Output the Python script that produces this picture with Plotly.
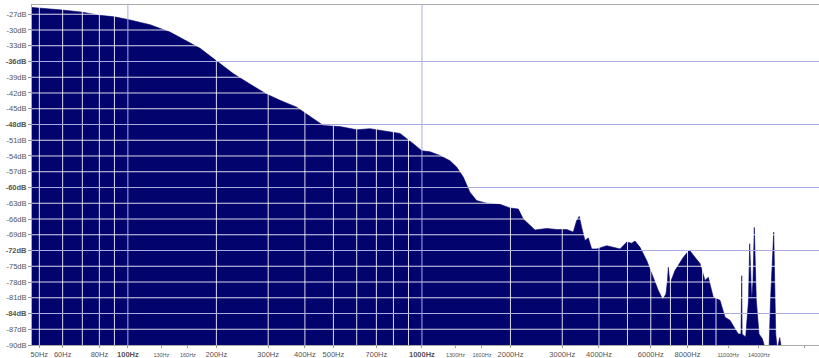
import math
import plotly.graph_objects as go

# Spectrum read-out: frequency (Hz) and level (dB)
freq_hz = [
    47, 50, 60, 70, 80, 90, 100, 119, 139, 176,
    200, 228, 260, 296, 329, 375, 405, 462, 526, 600,
    666, 759, 842, 932, 998, 1065, 1151, 1245, 1312, 1382,
    1456, 1535, 1660, 1842, 1992, 2126, 2211, 2330, 2423, 2656,
    2872, 3106, 3270, 3359, 3428, 3493, 3584, 3679, 3778, 3929,
    4249, 4475, 4716, 4970, 5168, 5303, 5515, 5812, 6118, 6363,
    6587, 6759, 6839, 6883, 6975, 7254, 7743, 8115, 8484, 8823,
    9175, 9415, 9790, 10318, 10730, 11158, 11604, 11910, 12163, 12230,
    12272, 12618, 12896, 13018, 13224, 13362, 13498, 13711, 14005, 14370,
    14759, 15145, 15324, 15469, 15714, 15962, 16163, 16470, 16730, 16800,
    22400,
]
level_db = [
    -25.7, -25.8, -26.2, -26.6, -27.2, -27.5, -28.0, -29.0, -30.4, -33.5,
    -35.8, -38.3, -40.3, -42.2, -43.4, -44.7, -46.0, -48.2, -48.4, -49.0,
    -48.8, -49.3, -49.7, -51.6, -53.0, -53.2, -53.9, -54.9, -56.1, -58.0,
    -60.9, -62.5, -63.0, -63.2, -63.9, -64.1, -66.0, -67.2, -68.1, -67.8,
    -68.0, -68.0, -68.5, -66.3, -65.5, -67.6, -70.1, -69.6, -71.7, -71.7,
    -71.1, -71.4, -71.7, -70.4, -70.6, -70.2, -71.4, -73.9, -77.1, -79.6,
    -81.3, -80.3, -77.7, -75.2, -78.3, -75.8, -73.3, -71.9, -73.3, -74.5,
    -77.7, -77.1, -80.9, -81.5, -84.7, -85.3, -86.9, -87.9, -87.9, -76.8,
    -87.9, -88.5, -81.5, -70.7, -81.5, -77.7, -67.6, -81.5, -87.9, -88.8,
    -91.0, -91.0, -81.5, -75.2, -68.5, -87.9, -91.0, -88.6, -91.0, -100.0,
    -100.0,
]

# Axis labelling
x_tick_hz = [50, 60, 80, 100, 130, 160, 200, 300, 400, 500, 700, 1000,
             1300, 1600, 2000, 3000, 4000, 6000, 8000, 11000, 14000, 20000]
x_small_hz = [130, 160, 1300, 1600, 11000, 14000]
x_bold_hz = [100, 1000]
y_tick_db = list(range(-90, -26, 3))
y_major_db = [-36, -48, -60, -72, -84]

# Grid positions
x_grid_minor = [50, 60, 70, 80, 90, 200, 300, 400, 500, 600, 700, 800, 900,
                2000, 3000, 4000, 5000, 6000, 7000, 8000, 9000, 10000, 20000]
x_grid_major = [100, 1000]

NAVY = "rgb(3,3,110)"
MAJOR = "rgb(172,172,228)"
FONT = "Liberation Sans, Arial, sans-serif"

X_MIN, X_MAX = 47.2, 22400
Y_MIN, Y_MAX = -90, -25.24


def x_label(f):
    text = f"{f}Hz"
    if f in x_bold_hz:
        return f"<b>{text}</b>"
    if f in x_small_hz:
        return f'<span style="font-size:5.5px">{text}</span>'
    return text


def y_label(v):
    text = f"{v}dB"
    if v in y_major_db:
        return f"<b>{text}</b>"
    return text


def vlines(xs):
    px, py = [], []
    for f in xs:
        px += [f, f, None]
        py += [Y_MIN, Y_MAX, None]
    return px, py


def hlines(ys):
    px, py = [], []
    for v in ys:
        px += [X_MIN, X_MAX, None]
        py += [v, v, None]
    return px, py


fig = go.Figure()

# floor for the filled area
fig.add_trace(go.Scatter(x=[freq_hz[0], freq_hz[-1]], y=[-100, -100], mode="lines",
                         line=dict(width=0), hoverinfo="skip", showlegend=False))
# spectrum
fig.add_trace(go.Scatter(x=freq_hz, y=level_db, mode="lines", fill="tonexty",
                         fillcolor=NAVY, line=dict(color=NAVY, width=0.6),
                         hoverinfo="skip", showlegend=False))

# white minor grid drawn over the spectrum
y_grid_minor = [v for v in y_tick_db if v not in y_major_db and v != -90]
vx, vy = vlines(x_grid_minor)
hx, hy = hlines(y_grid_minor)
fig.add_trace(go.Scatter(x=vx + hx, y=vy + hy, mode="lines",
                         line=dict(color="rgba(255,255,255,0.85)", width=1),
                         hoverinfo="skip", showlegend=False))
# lavender major grid
vx, vy = vlines(x_grid_major)
hx, hy = hlines(y_major_db)
fig.add_trace(go.Scatter(x=vx + hx, y=vy + hy, mode="lines",
                         line=dict(color=MAJOR, width=1),
                         hoverinfo="skip", showlegend=False))

fig.update_layout(
    width=819, height=358,
    margin=dict(l=32, r=0, t=5, b=13),
    paper_bgcolor="white", plot_bgcolor="white",
    font=dict(family=FONT, size=7.5, color="#666"),
    showlegend=False,
)
fig.update_xaxes(
    type="log", range=[math.log10(X_MIN), math.log10(X_MAX)],
    tickvals=x_tick_hz, ticktext=[x_label(f) for f in x_tick_hz],
    ticks="outside", ticklen=2, tickcolor="#999", tickangle=0,
    showgrid=False, zeroline=False,
    showline=True, linecolor="#aaa", linewidth=1, mirror=True,
    tickfont=dict(size=7.5, color="#555"),
)
fig.update_yaxes(
    range=[Y_MIN, Y_MAX],
    tickvals=y_tick_db, ticktext=[y_label(v) for v in y_tick_db],
    ticks="outside", ticklen=3, tickcolor="#999",
    showgrid=False, zeroline=False,
    showline=True, linecolor="#aaa", linewidth=1,
    tickfont=dict(size=7.5, color="#555"),
)

fig.write_html("out.html")
